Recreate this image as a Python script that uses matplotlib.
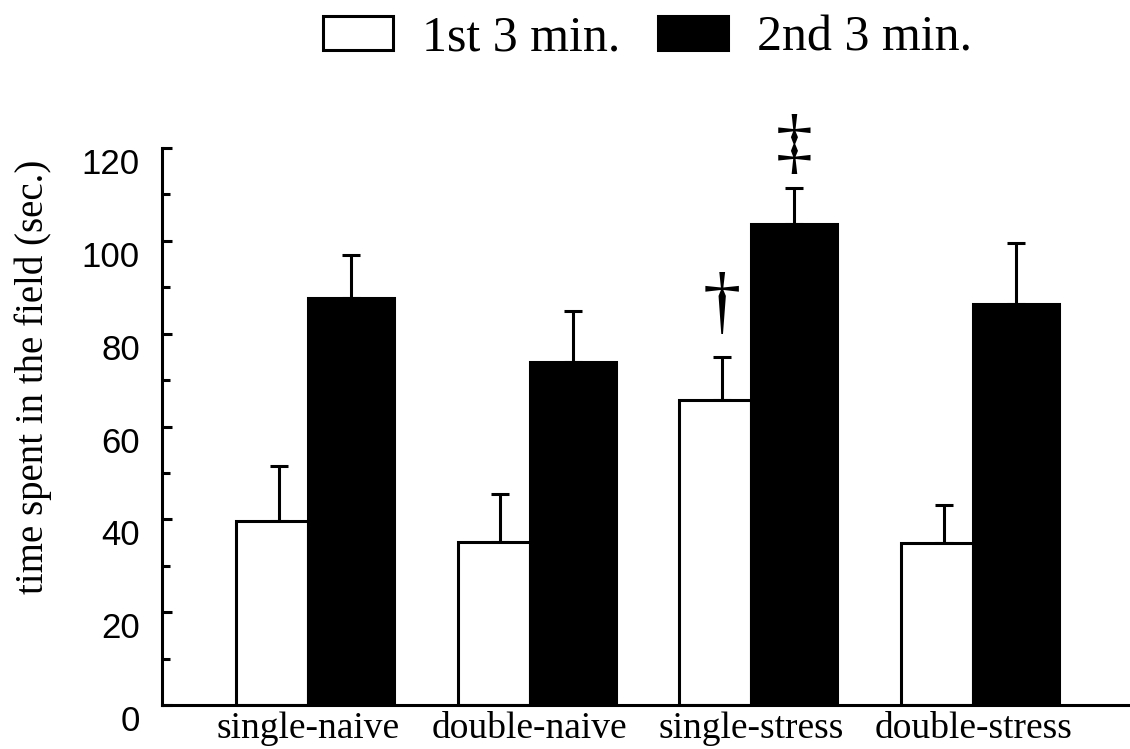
import numpy as np
import matplotlib
matplotlib.use('Agg')
import matplotlib.pyplot as plt

# values (sec.)
groups = ['single-naive', 'double-naive', 'single-stress', 'double-stress']
first_3min = [39.7, 35.2, 65.7, 34.8]
first_err = [11.7, 10.3, 9.2, 8.2]
second_3min = [87.6, 74.0, 103.7, 86.4]
second_err = [9.4, 10.9, 7.7, 13.2]
marks_first = ['', '', '\u2020', '']
marks_second = ['', '', '\u2021', '']
series_names = ['1st 3 min.', '2nd 3 min.']
yticks = [0, 20, 40, 60, 80, 100, 120]
yticks_minor = [10, 30, 50, 70, 90, 110]

serif = 'Liberation Serif'
sans = 'Liberation Sans'

fig = plt.figure(figsize=(11.3, 7.49), dpi=100)
ax = fig.add_axes([0.1434, 0.0587, 0.8566, 0.7437])

x = np.arange(len(groups))
w1 = 0.325
w2 = 0.388
lw = 2.2

b1 = ax.bar(x - w1/2, first_3min, w1, color='white', edgecolor='black',
			linewidth=lw, label=series_names[0], zorder=2)
b2 = ax.bar(x + w2/2, second_3min, w2, color='black', edgecolor='black',
			linewidth=lw, label=series_names[1], zorder=2)

# upper error bars only
ax.errorbar(x - w1/2 + 0.03, first_3min, yerr=[np.zeros(4), first_err], fmt='none',
			ecolor='black', elinewidth=lw, capsize=6.5, capthick=lw, zorder=1)
ax.errorbar(x + w2/2, second_3min, yerr=[np.zeros(4), second_err], fmt='none',
			ecolor='black', elinewidth=lw, capsize=6.5, capthick=lw, zorder=1)

# significance marks
for i in range(len(groups)):
	if marks_first[i]:
		ax.text(x[i] - w1/2 + 0.03, first_3min[i] + first_err[i] + 7, marks_first[i],
				ha='center', va='baseline', fontsize=55, family=serif)
	if marks_second[i]:
		ax.text(x[i] + w2/2, second_3min[i] + second_err[i] + 5, marks_second[i],
				ha='center', va='baseline', fontsize=53, family=serif)

ax.set_xlim(-0.659, 3.708)
ax.set_ylim(0, 120)
ax.set_yticks(yticks)
ax.set_yticks(yticks_minor, minor=True)
ax.set_yticklabels([str(v) for v in yticks], family=sans, fontsize=25, va='top')
ax.tick_params(axis='y', which='major', direction='in', length=7.5, width=lw, pad=16)
ax.tick_params(axis='y', which='minor', direction='in', length=5.5, width=lw)

ax.set_xticks(x)
ax.set_xticklabels(groups, fontsize=27, family=serif)
ax.tick_params(axis='x', length=0, pad=5)

for s in ['top', 'right']:
	ax.spines[s].set_visible(False)
for s in ['left', 'bottom']:
	ax.spines[s].set_linewidth(lw)

ax.set_ylabel('time spent in the field (sec.)', fontsize=28, family=serif)
ax.yaxis.set_label_coords(-0.114, 0.59)

leg = fig.legend(handles=[b1, b2], loc='center', bbox_to_anchor=(0.573, 0.949),
				 ncol=2, frameon=False, prop={'family': serif, 'size': 36},
				 handlelength=1.4, handleheight=0.68, handletextpad=0.58,
				 columnspacing=0.75)

fig.savefig('out.png', dpi=100)
